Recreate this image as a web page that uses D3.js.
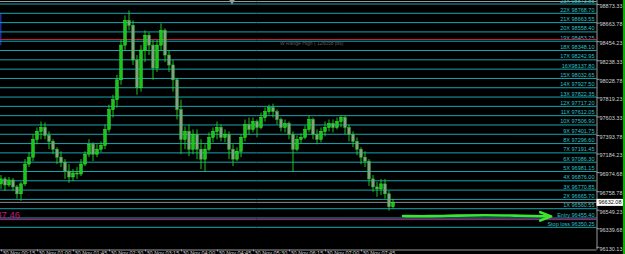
<!DOCTYPE html>
<html>
<head>
<meta charset="utf-8">
<script src="https://cdn.jsdelivr.net/npm/d3@7"></script>
<style>
  html, body { margin: 0; padding: 0; background: #000; overflow: hidden; }
  svg { display: block; }
  text { font-family: "Liberation Sans", Arial, sans-serif; }
</style>
</head>
<body>
<div id="container"></div>
<script>
/* CONSTANTS AND GLOBALS */
const width = 625, height = 254,
  plotRight = 596.5,
  plotBottom = 249.5

/* DATA */
// M5 candles, oldest first
const opens = [96841, 96897, 96829, 96885, 96807, 96729, 96841, 97065, 97143, 97345,
  97434, 97479, 97389, 97322, 97233, 97143, 97087, 96986, 96919, 96964,
  96953, 97065, 97177, 97289, 97177, 97233, 97277, 97457, 97681, 97793,
  98017, 98409, 98689, 98633, 98241, 97927, 98353, 98521, 98409, 98151,
  98409, 98577, 98297, 98185, 98017, 97681, 97345, 97434, 97233, 97401,
  97233, 97121, 97233, 97367, 97434, 97479, 97367, 97401, 97233, 97121,
  97210, 97367, 97513, 97457, 97546, 97479, 97591, 97658, 97703, 97658,
  97569, 97479, 97524, 97401, 97233, 97345, 97367, 97457, 97569, 97401,
  97345, 97434, 97479, 97524, 97479, 97546, 97591, 97479, 97401, 97322,
  97233, 97143, 97098, 96897, 96807, 96785, 96841, 96729, 96583]
const highs = [96941, 96919, 96919, 96908, 96829, 96863, 97121, 97199, 97401, 97479,
  97546, 97535, 97434, 97345, 97255, 97210, 97121, 97065, 97009, 97031,
  97121, 97210, 97345, 97311, 97289, 97322, 97513, 97737, 97849, 98073,
  98465, 98745, 98801, 98689, 98297, 98409, 98577, 98554, 98465, 98465,
  98655, 98599, 98353, 98241, 98039, 97793, 97490, 97513, 97457, 97457,
  97345, 97289, 97423, 97479, 97546, 97513, 97457, 97434, 97289, 97255,
  97401, 97569, 97591, 97591, 97569, 97647, 97703, 97737, 97748, 97681,
  97591, 97569, 97546, 97434, 97389, 97412, 97501, 97613, 97591, 97457,
  97479, 97546, 97569, 97569, 97591, 97613, 97613, 97513, 97434, 97367,
  97255, 97210, 97121, 96941, 96863, 96897, 96897, 96762, 96673]
const lows = [96785, 96762, 96807, 96762, 96673, 96650, 96818, 97031, 97098, 97289,
  97345, 97345, 97233, 97177, 97065, 97031, 96897, 96852, 96874, 96897,
  96930, 97042, 97143, 97098, 97143, 97199, 97233, 97423, 97591, 97703,
  97961, 98353, 98577, 98185, 97849, 97882, 98218, 98297, 98017, 98106,
  98353, 98218, 98106, 97882, 97569, 97177, 97233, 97154, 97177, 97121,
  97009, 96975, 97210, 97311, 97345, 97322, 97311, 97121, 97042, 97098,
  97143, 97322, 97401, 97423, 97367, 97457, 97546, 97625, 97591, 97513,
  97434, 97423, 97345, 96975, 97210, 97300, 97345, 97423, 97345, 97289,
  97311, 97378, 97434, 97423, 97457, 97479, 97401, 97322, 97255, 97165,
  97065, 97031, 96818, 96751, 96695, 96717, 96673, 96538, 96561]
const closes = [96897, 96829, 96885, 96807, 96729, 96841, 97065, 97143, 97345, 97434,
  97479, 97389, 97322, 97233, 97143, 97087, 96986, 96919, 96964, 96953,
  97065, 97177, 97289, 97177, 97233, 97277, 97457, 97681, 97793, 98017,
  98409, 98689, 98633, 98241, 97927, 98353, 98521, 98409, 98151, 98409,
  98577, 98297, 98185, 98017, 97681, 97345, 97434, 97233, 97401, 97233,
  97121, 97233, 97367, 97434, 97479, 97367, 97401, 97233, 97121, 97210,
  97367, 97513, 97457, 97546, 97479, 97591, 97658, 97703, 97658, 97569,
  97479, 97524, 97401, 97233, 97345, 97367, 97457, 97569, 97401, 97345,
  97434, 97479, 97524, 97479, 97546, 97591, 97479, 97401, 97322, 97233,
  97143, 97098, 96897, 96807, 96785, 96841, 96729, 96583, 96632.08]

// bottom time axis: bar index of each label
const timeLabelBars = [0, 9, 18, 27, 36, 45, 54, 63, 72, 81, 90]
const timeLabels = ["30 Nov 00:15", "30 Nov 01:00", "30 Nov 01:45", "30 Nov 02:30",
  "30 Nov 03:15", "30 Nov 04:00", "30 Nov 04:45", "30 Nov 05:30",
  "30 Nov 06:15", "30 Nov 07:00", "30 Nov 07:45"]

// right price axis
const priceTicks = [98873.33, 98663.78, 98454.23, 98238.33, 98028.78, 97819.23, 97603.33,
  97393.78, 97184.23, 96974.68, 96758.78, 96549.23, 96339.68, 96130.13]

// target levels
const levelNames = ["23X", "22X", "21X", "20X", "19X", "18X", "17X", "16X", "15X", "14X",
  "13X", "12X", "11X", "10X", "9X", "8X", "7X", "6X", "5X", "4X", "3X", "2X", "1X",
  "Entry", "Stop loss"]
const levelPrices = [98873.85, 98768.70, 98663.55, 98558.40, 98453.25, 98348.10, 98242.95,
  98137.80, 98032.65, 97927.50, 97822.35, 97717.20, 97612.05, 97506.90, 97401.75,
  97296.60, 97191.45, 97086.30, 96981.15, 96876.00, 96770.85, 96665.70, 96560.55,
  96455.40, 96350.25]

const bidPrice = 96632.08
const markerPrice = 96437.46
const rangeHigh = 98472.7
const rangeText = "W Range High ( 126058 pts)"

// hand drawn arrow, [bar index, price]; last entry = arrow head base
const arrowBars = [100.5, 107, 114, 121, 128, 137.3, 134.8]
const arrowPrices = [96478, 96474, 96484, 96488, 96484, 96474, 96474]

/* SCALES */
const xScale = d3.scaleLinear()
  .domain([0, 100])
  .range([1, 401])

const yScale = d3.scaleLinear()
  .domain([96105.35, 98919.05])
  .range([plotBottom - 0.5, 0])

/* SVG */
const svg = d3.select("#container")
  .append("svg")
  .attr("width", width)
  .attr("height", height)

svg.append("rect")
  .attr("width", width).attr("height", height)
  .attr("fill", "#000")

// frame top line + shift marker
svg.append("line")
  .attr("x1", 0).attr("x2", plotRight)
  .attr("y1", 1.5).attr("y2", 1.5)
  .attr("stroke", "#9a9a9a")
svg.append("path")
  .attr("d", d3.symbol(d3.symbolTriangle, 14)())
  .attr("transform", "translate(232,1.5) rotate(180)")
  .attr("fill", "#9a9a9a")

// left blue box edge
svg.append("rect")
  .attr("x", 0).attr("y", yScale(98770)).attr("width", 1.5)
  .attr("height", yScale(98408) - yScale(98770))
  .attr("fill", "#1a2aa0")

// LEVEL LINES
svg.selectAll("line.level")
  .data(levelPrices)
  .join("line")
  .attr("class", "level")
  .attr("x1", 0).attr("x2", plotRight)
  .attr("y1", d => yScale(d)).attr("y2", d => yScale(d))
  .attr("stroke", "#10a8b2")
  .attr("stroke-width", 1)

svg.selectAll("text.level")
  .data(levelPrices)
  .join("text")
  .attr("class", "level")
  .attr("x", plotRight - 2)
  .attr("y", d => yScale(d) - 1.5)
  .attr("text-anchor", "end")
  .attr("fill", "#2cc0c8")
  .style("font-size", "5.5px")
  .text((d, i) => levelNames[i] + (levelNames[i] === "16X" ? "" : " ") + d.toFixed(2))

// range high line
svg.append("line")
  .attr("x1", 0).attr("x2", plotRight)
  .attr("y1", yScale(rangeHigh)).attr("y2", yScale(rangeHigh))
  .attr("stroke", "#d01a3a")
svg.append("text")
  .attr("x", 280).attr("y", yScale(rangeHigh) + 5)
  .attr("fill", "#5a5a5a")
  .style("font-size", "5px")
  .text(rangeText)

// bid line
svg.append("line")
  .attr("x1", 0).attr("x2", plotRight)
  .attr("y1", yScale(bidPrice)).attr("y2", yScale(bidPrice))
  .attr("stroke", "#8a8a8a")

// magenta marker line
svg.append("line")
  .attr("x1", 0).attr("x2", plotRight)
  .attr("y1", yScale(markerPrice)).attr("y2", yScale(markerPrice))
  .attr("stroke", "#c8157e")
svg.append("text")
  .attr("x", 20).attr("y", yScale(markerPrice) - 2)
  .attr("text-anchor", "end")
  .attr("fill", "#c0187f")
  .style("font-size", "9.5px")
  .text(markerPrice.toFixed(2))

// CANDLES
const candles = closes.map((c, i) => ({ i, o: opens[i], h: highs[i], l: lows[i], c }))

svg.selectAll("line.wick")
  .data(candles)
  .join("line")
  .attr("class", "wick")
  .attr("x1", d => xScale(d.i)).attr("x2", d => xScale(d.i))
  .attr("y1", d => yScale(d.h)).attr("y2", d => yScale(d.l))
  .attr("stroke", "#22d822")
  .attr("stroke-width", 0.9)

svg.selectAll("rect.body")
  .data(candles)
  .join("rect")
  .attr("class", "body")
  .attr("x", d => xScale(d.i) - 1.3)
  .attr("width", 2.6)
  .attr("y", d => yScale(Math.max(d.o, d.c)))
  .attr("height", d => Math.max(1, Math.abs(yScale(d.o) - yScale(d.c))))
  .attr("fill", d => d.c >= d.o ? "#1cc41c" : "#86a086")
  .attr("stroke", d => d.c >= d.o ? "#34f034" : "#26c426")
  .attr("stroke-width", 0.5)

// ARROW
const arrowLine = d3.line()
  .x(d => xScale(d[0]))
  .y(d => yScale(d[1]))
  .curve(d3.curveBasis)
const arrowPts = arrowBars.slice(0, 6).map((b, i) => [b, arrowPrices[i]])
svg.append("path")
  .attr("d", arrowLine(arrowPts))
  .attr("fill", "none")
  .attr("stroke", "#3ae62e")
  .attr("stroke-width", 2.6)
  .attr("stroke-linecap", "round")
const tipX = xScale(arrowBars[5]), tipY = yScale(arrowPrices[5]), baseX = xScale(arrowBars[6])
svg.append("path")
  .attr("d", `M${baseX},${tipY - 4.2} L${tipX + 1},${tipY} L${baseX},${tipY + 4.2}`)
  .attr("fill", "none")
  .attr("stroke", "#3ae62e")
  .attr("stroke-width", 2.6)
  .attr("stroke-linejoin", "round")
  .attr("stroke-linecap", "round")

// AXES
const yAxis = d3.axisRight(yScale)
  .tickValues(priceTicks)
  .tickSize(3)
  .tickPadding(0)
  .tickFormat(d3.format(".2f"))

const gy = svg.append("g")
  .attr("transform", `translate(${plotRight}, 0)`)
  .call(yAxis)
gy.select(".domain").attr("stroke", "#9a9a9a").attr("d", `M0.5,0V${plotBottom}`)
gy.selectAll(".tick line").attr("stroke", "#9a9a9a")
gy.selectAll(".tick text")
  .attr("fill", "#d0d0d0")
  .attr("dy", "0.6em")
  .style("font-size", "5.5px")
  .style("font-family", "'Liberation Sans', Arial, sans-serif")

const xAxis = d3.axisBottom(xScale)
  .tickValues(timeLabelBars)
  .tickSize(2)
  .tickFormat((d, i) => timeLabels[i])

const gx = svg.append("g")
  .attr("transform", `translate(0, ${plotBottom})`)
  .call(xAxis)
gx.select(".domain").attr("stroke", "#9a9a9a").attr("d", `M0,0.5H${plotRight}`)
gx.selectAll(".tick line").attr("stroke", "#9a9a9a")
gx.selectAll(".tick text")
  .attr("fill", "#d0d0d0")
  .attr("text-anchor", "start")
  .attr("x", 1)
  .attr("y", 2)
  .attr("dy", "0.71em")
  .style("font-size", "5.5px")
  .style("font-family", "'Liberation Sans', Arial, sans-serif")

// current price box
svg.append("rect")
  .attr("x", plotRight).attr("y", yScale(bidPrice) - 3.5)
  .attr("width", 27).attr("height", 7)
  .attr("fill", "#ffffff")
svg.append("text")
  .attr("x", plotRight + 2).attr("y", yScale(bidPrice) + 2)
  .attr("fill", "#000")
  .style("font-size", "5.5px")
  .text(bidPrice.toFixed(2))

// right edge green bar
svg.append("rect")
  .attr("x", 623).attr("y", 0)
  .attr("width", 2).attr("height", height)
  .attr("fill", "#00b400")
</script>
</body>
</html>
